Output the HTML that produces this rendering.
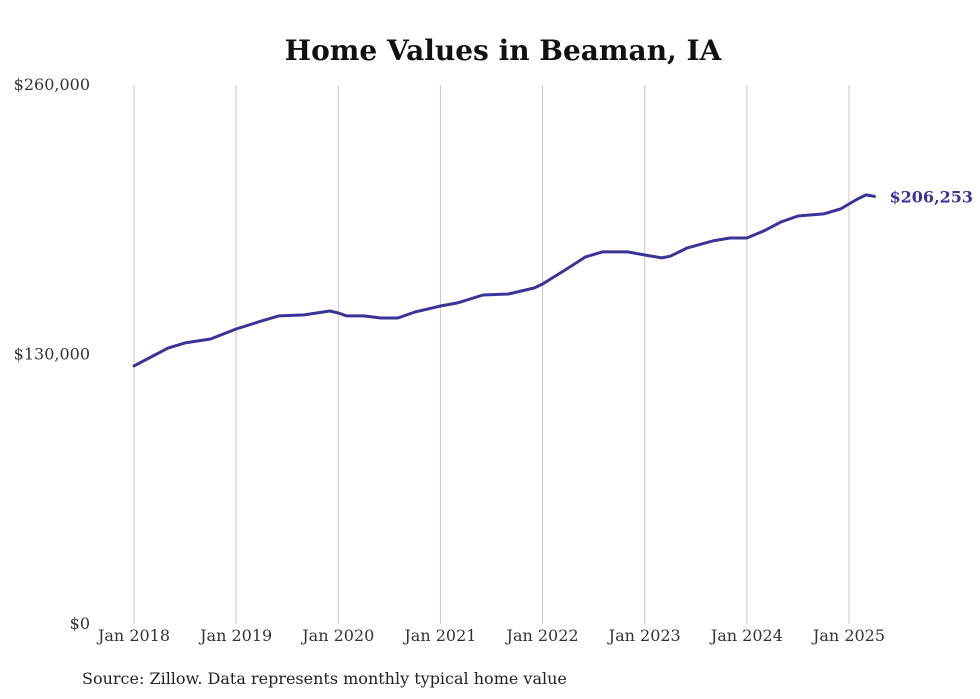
<!DOCTYPE html>
<html><head><meta charset="utf-8"><style>
html,body{margin:0;padding:0;background:#fff;}
svg{display:block;font-family:"DejaVu Serif","Liberation Serif",serif;}
</style></head><body>
<svg id="chart" width="980" height="699" viewBox="0 0 980 699">
<text x="503" y="60" text-anchor="middle" font-size="28" font-weight="bold" fill="#111">Home Values in Beaman, IA</text>
<g id="grid"></g><g id="yaxis"></g><g id="xaxis"></g><g id="series"></g>
<text x="82" y="684" font-size="16" fill="#222">Source: Zillow. Data represents monthly typical home value</text>
</svg>
<script>
const monthIdx=[0,2,4,6,9,12,15,17,20,23,24,25,27,29,31,33,35,36,38,41,44,47,48,51,53,55,58,60,62,63,65,68,70,72,74,76,78,81,83,85,86,87];
const values=[124500,128800,133100,135600,137500,142300,146200,148600,149100,151000,150000,148600,148600,147600,147600,150500,152400,153400,154900,158700,159200,162100,164000,171700,177000,179500,179500,178000,176600,177400,181400,184800,186200,186200,189600,193900,196800,197800,200200,205000,207000,206253];
const yTicks=[0,130000,260000];
const yTickLabels=["$0","$130,000","$260,000"];
const xTickMonths=[0,12,24,36,48,60,72,84];
const xTickLabels=["Jan 2018","Jan 2019","Jan 2020","Jan 2021","Jan 2022","Jan 2023","Jan 2024","Jan 2025"];
const endLabel="$206,253";
const NS="http://www.w3.org/2000/svg";
const x=m=>134+m*(715/84);
const y=v=>624-v*(539/260000);
function mk(t,a,p){const e=document.createElementNS(NS,t);for(const k in a)e.setAttribute(k,a[k]);p.appendChild(e);return e;}
const grid=document.getElementById('grid'),ya=document.getElementById('yaxis'),xa=document.getElementById('xaxis'),se=document.getElementById('series');
xTickMonths.forEach((m,i)=>{
 const l=mk('line',{x1:x(m),x2:x(m),y1:85,y2:624,stroke:'#c8c8c8','stroke-width':1},grid);
 
 
 const t=mk('text',{x:x(m),y:641,'text-anchor':'middle','font-size':16,fill:'#333'},xa);
 t.textContent=xTickLabels[i];
 
 
});
yTicks.forEach((v,i)=>{
 const t=mk('text',{x:90,y:y(v)+5,'text-anchor':'end','font-size':16,fill:'#333'},ya);
 t.textContent=yTickLabels[i];
 
 
});
const d=monthIdx.map((m,i)=>(i?'L':'M')+x(m).toFixed(1)+','+y(values[i]).toFixed(1)).join(' ');
const p=mk('path',{d:d,fill:'none',stroke:'#3a3496','stroke-width':3,'stroke-linejoin':'round','stroke-linecap':'round'},se);


const n=monthIdx.length-1;
const lb=mk('text',{x:x(monthIdx[n])+15,y:y(values[n])+6,'font-size':16,'font-weight':'bold',fill:'#3a3496'},se);
lb.textContent=endLabel;


</script>
</body></html>
